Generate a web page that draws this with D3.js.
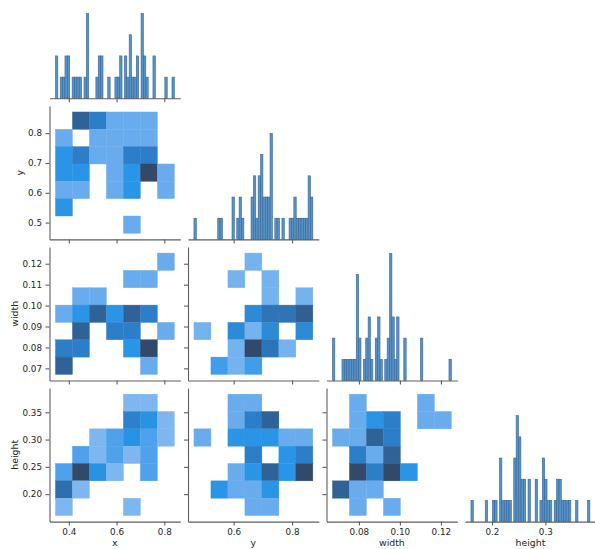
<!doctype html>
<html>
  <head>
    <meta charset="utf-8">
    <title>Pair plot</title>
    <style>
      body { margin: 0; background: #fff; }
      .axis path, .axis line { stroke: #5e5e5e; stroke-width: 1.1px; }
      .axis text { fill: #262626; font-size: 8.8px; font-family: "DejaVu Sans", sans-serif; }
      .label { fill: #262626; font-size: 9.4px; font-family: "DejaVu Sans", sans-serif; }
      .bar { fill: #5892c5; stroke: #36669a; stroke-width: 0.6px; }
    </style>
    <script src="https://cdn.jsdelivr.net/npm/d3@7"></script>
  </head>
  <body>
  <script>
    const varNames = ["x", "y", "width", "height"];

    // first and last bin edge of each variable
    const binMin = [0.344, 0.464, 0.0671, 0.1608];
    const binMax = [0.842, 0.871, 0.1251, 0.3832];

    const xTicks = [[0.4, 0.6, 0.8], [0.6, 0.8], [0.08, 0.10, 0.12], [0.2, 0.3]];
    const yTicks = [[], [0.5, 0.6, 0.7, 0.8], [0.07, 0.08, 0.09, 0.10, 0.11, 0.12], [0.20, 0.25, 0.30, 0.35]];
    const xFormats = [".1f", ".1f", ".2f", ".1f"];
    const yFormats = [".1f", ".1f", ".2f", ".2f"];

    // diagonal histograms, 50 bins each
    const xCounts = [2,0,1,1,2,2,0,1,1,1, 1,0,1,4,0,0,0,1,2,2, 0,0,1,0,0,1,1,2,0,2,
                     1,3,1,1,2,0,4,2,1,0, 0,2,0,0,0,0,1,0,0,1];
    const yCounts = [1,0,0,0,0,0,0,0,0,0, 1,1,0,0,0,0,2,0,1,2, 1,0,0,0,2,3,1,3,4,2,
                     2,2,5,0,1,1,0,1,0,0, 1,1,2,1,1,1,1,1,3,2];
    const widthCounts = [2,0,0,0,1,1,1,1,1,1, 5,2,0,1,2,3,1,0,2,3, 1,0,1,2,6,3,1,3,0,0,
                         2,0,0,0,0,0,0,2,0,0, 0,0,0,0,0,0,0,0,0,1];
    const heightCounts = [1,0,0,0,0,0,1,0,0,1, 1,0,3,1,1,1,1,0,3,5, 4,2,2,0,2,0,0,2,0,1,
                          3,2,1,1,0,1,2,2,1,1, 1,1,0,0,1,0,0,0,0,1];

    // bivariate histograms, 7 x 7 bins, first row = highest bin
    const gridYX = [
      [0,4,3,1,1,1,0],
      [1,0,1,1,1,1,0],
      [2,3,1,1,3,3,0],
      [2,2,0,1,2,5,1],
      [1,1,0,1,2,0,1],
      [2,0,0,0,0,0,0],
      [0,0,0,0,1,0,0]];
    const gridWidthX = [
      [0,0,0,0,0,0,1],
      [0,0,0,0,1,1,0],
      [0,1,1,0,0,0,0],
      [1,2,4,2,4,3,0],
      [0,4,0,3,3,0,1],
      [3,3,0,0,2,5,0],
      [4,0,0,0,0,1,0]];
    const gridHeightX = [
      [0,0,0,0,1,1,0],
      [0,0,0,0,4,3,1],
      [0,0,1,2,3,2,1],
      [0,2,1,2,1,2,0],
      [2,7,3,1,0,2,0],
      [5,1,0,0,0,0,0],
      [1,0,0,0,1,0,0]];
    const gridWidthY = [
      [0,0,0,1,0,0,0],
      [0,0,1,0,1,0,0],
      [0,0,0,0,1,0,1],
      [0,0,0,3,4,4,5],
      [1,0,3,1,3,0,3],
      [0,0,1,6,4,1,0],
      [0,2,1,2,0,0,0]];
    const gridHeightY = [
      [0,0,1,1,0,0,0],
      [0,0,1,3,4,0,0],
      [1,0,2,2,2,1,1],
      [0,0,0,3,0,2,3],
      [0,0,1,2,4,2,5],
      [0,2,1,1,2,0,0],
      [0,0,0,1,1,0,0]];
    const gridHeightWidth = [
      [0,1,0,0,0,1,0],
      [0,1,2,3,0,1,1],
      [1,1,4,3,0,0,0],
      [0,3,1,4,0,0,0],
      [0,5,3,5,2,0,0],
      [4,1,1,0,0,0,0],
      [0,1,0,1,0,0,0]];

    const diagCounts = [xCounts, yCounts, widthCounts, heightCounts];
    // [row, col, grid]
    const lowerPanels = [
      [1, 0, gridYX], [2, 0, gridWidthX], [3, 0, gridHeightX],
      [2, 1, gridWidthY], [3, 1, gridHeightY], [3, 2, gridHeightWidth]];

    // layout of the grid of axes
    var W = 130.8, H = 133.5,
        left0 = 49.5, colStep = 138.5,
        bottom0 = 98.3, rowStep = 141.1;

    var svg = d3.select("body").append("svg")
        .attr("width", 595)
        .attr("height", 549);

    // axis limits: data range plus 5% margin
    function limits(i) {
      var pad = (binMax[i] - binMin[i]) * 0.05;
      return [binMin[i] - pad, binMax[i] + pad];
    }
    var xs = varNames.map(function(v, i) {
      return d3.scaleLinear().domain(limits(i)).range([0, W]); });
    var ys = varNames.map(function(v, i) {
      return d3.scaleLinear().domain(limits(i)).range([H, 0]); });

    // diagonal axes share the count axis
    var maxCount = d3.max(diagCounts, function(a) { return d3.max(a); });
    var countY = d3.scaleLinear().domain([0, maxCount * 1.05]).range([H, 0]);

    var shade = d3.scaleLinear()
        .domain([0, 0.2, 0.4, 0.6, 0.8, 1])
        .range(["#b3d3f4", "#69acee", "#2a95e6", "#2d7ec8", "#2f6398", "#32496a"])
        .interpolate(d3.interpolateRgb);

    function panel(r, c) {
      return svg.append("g")
        .attr("transform", "translate(" + (left0 + c * colStep) + "," + (bottom0 + r * rowStep - H) + ")");
    }

    function bottomAxis(g, r, c) {
      g.append("g")
        .attr("class", "axis")
        .attr("transform", "translate(0," + H + ")")
        .call(d3.axisBottom(xs[c])
          .tickValues(xTicks[c])
          .tickSize(4).tickSizeOuter(0).tickPadding(3.5)
          .tickFormat(r === 3 ? d3.format(xFormats[c]) : ""));
    }

    // diagonal histograms
    varNames.forEach(function(v, i) {
      var g = panel(i, i);
      var counts = diagCounts[i];
      var step = (binMax[i] - binMin[i]) / counts.length;
      var bins = counts.map(function(n, k) {
        return {x0: binMin[i] + k * step, x1: binMin[i] + (k + 1) * step, n: n};
      }).filter(function(d) { return d.n > 0; });

      g.selectAll(".bar")
        .data(bins)
        .enter().append("rect")
          .attr("class", "bar")
          .attr("x", function(d) { return xs[i](d.x0); })
          .attr("width", function(d) { return xs[i](d.x1) - xs[i](d.x0); })
          .attr("y", function(d) { return countY(d.n); })
          .attr("height", function(d) { return H - countY(d.n); });

      bottomAxis(g, i, i);
    });

    // lower triangle: 2d histograms
    lowerPanels.forEach(function(p) {
      var r = p[0], c = p[1], grid = p[2];
      var g = panel(r, c);
      var nx = grid[0].length, ny = grid.length;
      var sx = (binMax[c] - binMin[c]) / nx,
          sy = (binMax[r] - binMin[r]) / ny;
      var gmax = d3.max(grid, function(row) { return d3.max(row); });

      var cells = [];
      grid.forEach(function(row, ri) {
        row.forEach(function(n, ci) {
          if (n > 0) cells.push({ix: ci, iy: ny - 1 - ri, n: n});
        });
      });

      g.selectAll(".cell")
        .data(cells)
        .enter().append("rect")
          .attr("class", "cell")
          .attr("x", function(d) { return xs[c](binMin[c] + d.ix * sx); })
          .attr("width", function(d) { return xs[c](binMin[c] + (d.ix + 1) * sx) - xs[c](binMin[c] + d.ix * sx); })
          .attr("y", function(d) { return ys[r](binMin[r] + (d.iy + 1) * sy); })
          .attr("height", function(d) { return ys[r](binMin[r] + d.iy * sy) - ys[r](binMin[r] + (d.iy + 1) * sy); })
          .style("fill", function(d) { return shade(d.n / gmax); })
          .style("stroke", function(d) { return shade(d.n / gmax); })
          .style("stroke-width", 0.4);

      var ya = g.append("g")
        .attr("class", "axis")
        .call(d3.axisLeft(ys[r])
          .tickValues(yTicks[r])
          .tickSize(4).tickSizeOuter(0).tickPadding(3.5)
          .tickFormat(c === 0 ? d3.format(yFormats[r]) : ""));

      bottomAxis(g, r, c);

      if (c === 0) {
        var bb = ya.node().getBBox();
        g.append("text")
          .attr("class", "label")
          .attr("transform", "translate(" + (bb.x - 7.8) + "," + (H / 2) + ") rotate(-90)")
          .attr("dy", "0.35em")
          .style("text-anchor", "middle")
          .text(varNames[r]);
      }
    });

    // x labels under the bottom row
    varNames.forEach(function(v, i) {
      svg.append("text")
        .attr("class", "label")
        .attr("x", left0 + i * colStep + W / 2)
        .attr("y", bottom0 + 3 * rowStep + 24.5)
        .style("text-anchor", "middle")
        .text(v);
    });
  </script>
  </body>
</html>
